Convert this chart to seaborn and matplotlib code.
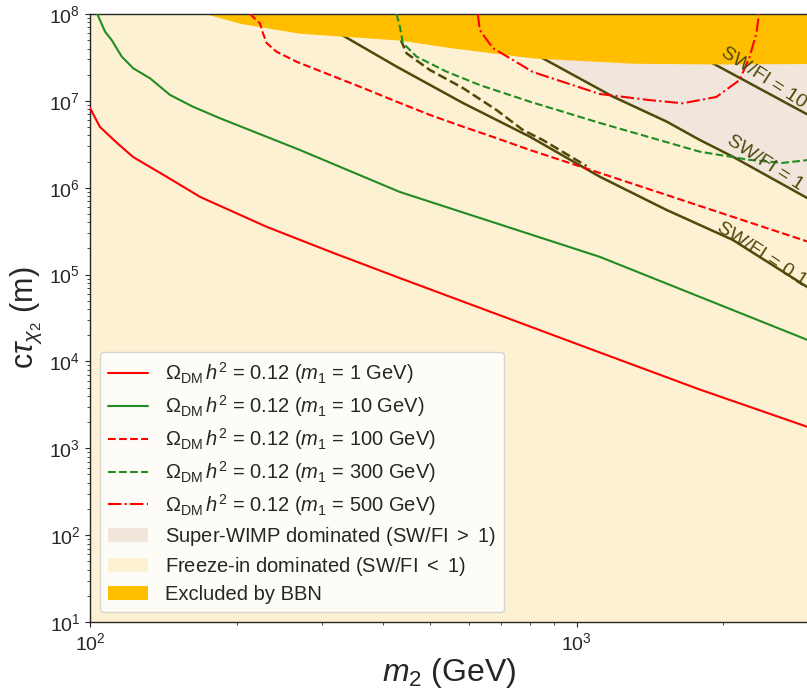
import numpy as np
import matplotlib
matplotlib.use('Agg')
import matplotlib.pyplot as plt
import seaborn as sns

# curves (m2 in GeV, c*tau in m)
m_red1 = [100, 104.8, 113.6, 122.6, 143.9, 168.4, 230.8, 315.8, 432, 700, 1078, 1789, 3000]
ct_red1 = [8.28e6, 5.01e6, 3.28e6, 2.26e6, 1.33e6, 7.83e5, 3.54e5, 1.78e5, 9.16e4, 3.35e4, 1.36e4, 4.75e3, 1.74e3]

m_grn10 = [103.5, 107.4, 110.8, 116.2, 122.7, 132.8, 146.0, 162.7, 184.9, 269.9, 432.6, 1115, 3000]
ct_grn10 = [1.0e8, 6.25e7, 5.01e7, 3.23e7, 2.37e7, 1.82e7, 1.17e7, 8.57e6, 6.31e6, 2.72e6, 8.95e5, 1.60e5, 1.74e4]

m_red100 = [213.1, 223.4, 226.6, 230.6, 241.7, 265.7, 311.0, 363.6, 426.4, 499.1, 583.4, 684.2, 800.9, 1115, 1789, 3000]
ct_red100 = [1.0e8, 7.82e7, 6.04e7, 4.63e7, 3.68e7, 2.82e7, 1.99e7, 1.41e7, 9.79e6, 6.89e6, 5.05e6, 3.72e6, 2.72e6, 1.48e6, 6.17e5, 2.37e5]

m_grn300 = [426.4, 433.1, 439.3, 468.7, 540.0, 632.1, 800.9, 1115, 1789, 2266, 2649, 3000]
ct_grn300 = [1.0e8, 7.14e7, 4.63e7, 3.23e7, 2.17e7, 1.52e7, 9.79e6, 5.57e6, 2.60e6, 2.09e6, 1.93e6, 2.09e6]

m_red500 = [626.1, 632.1, 672.1, 739.0, 812.3, 1115, 1412, 1651, 1936, 2161, 2266, 2339, 2368]
ct_red500 = [1.0e8, 6.55e7, 4.06e7, 2.96e7, 2.15e7, 1.20e7, 1.02e7, 9.38e6, 1.11e7, 1.74e7, 3.23e7, 6.0e7, 1.0e8]

# unlabeled dark dashed curve
m_dk = [425, 429, 447, 499, 583, 684, 775, 851, 1047]
ct_dk = [1.0e8, 6.04e7, 3.53e7, 2.27e7, 1.41e7, 7.85e6, 4.62e6, 3.55e6, 1.78e6]

# SW/FI contours
m_sw01 = [277, 333.9, 426.4, 583.4, 800.9, 1115, 1528, 2091, 3000]
ct_sw01 = [1.0e8, 5.48e7, 2.48e7, 9.46e6, 3.87e6, 1.34e6, 5.56e5, 2.51e5, 6.98e4]
m_sw1 = [574, 839.5, 1186, 1530, 1789, 2091, 3000]
ct_sw1 = [1.0e8, 3.23e7, 1.12e7, 5.77e6, 3.55e6, 2.28e6, 7.41e5]
m_sw10 = [1230, 1902, 3000]
ct_sw10 = [1.0e8, 2.71e7, 6.82e6]

# BBN excluded region lower edge
m_bbn = [100, 173.6, 203.2, 269.9, 433.1, 556.6, 812.3, 1303, 1936, 3000]
ct_bbn = [1.0e8, 1.0e8, 7.82e7, 6.0e7, 5.01e7, 4.06e7, 3.12e7, 2.71e7, 2.66e7, 2.69e7]

xlim = [100, 3000]
ylim = [1e1, 1e8]

sns.set_style('ticks')
plt.rcParams['font.family'] = ['Liberation Sans', 'DejaVu Sans']
plt.rcParams['mathtext.fontset'] = 'custom'
plt.rcParams['mathtext.rm'] = 'Liberation Sans'
plt.rcParams['mathtext.it'] = 'Liberation Sans:italic'
plt.rcParams['mathtext.bf'] = 'Liberation Sans:bold'

fig = plt.figure(figsize=(8.07, 6.93), dpi=100)
ax = fig.add_axes([90/807, 71/693, 719/807, 608/693])

fi_col = '#fdf1d3'
sw_col = '#f0e6dc'
bbn_col = '#ffbf00'
olive = '#4f4a0c'

h_fi = ax.fill_between(xlim, ylim[0], ylim[1], color=fi_col, lw=0, zorder=0,
                       label=r'Freeze-in dominated (SW/FI $<$ 1)')
h_sw = ax.fill_between(m_sw1, ct_sw1, ylim[1], color=sw_col, lw=0, zorder=0.5,
                       label=r'Super-WIMP dominated (SW/FI $>$ 1)')

for mm, cc in [(m_sw01, ct_sw01), (m_sw1, ct_sw1), (m_sw10, ct_sw10)]:
    ax.plot(mm, cc, color=olive, lw=1.8, zorder=1)
ax.plot(m_dk, ct_dk, color=olive, lw=1.8, ls='--', zorder=1)

h_bbn = ax.fill_between(m_bbn, ct_bbn, ylim[1], color=bbn_col, lw=0, zorder=2,
                        label='Excluded by BBN')

lab = r'$\Omega_{\rm DM}\,h^2$ = 0.12 ($m_1$ = %s GeV)'
sns.lineplot(x=m_red1, y=ct_red1, sort=False, estimator=None, color='red', lw=1.5, ax=ax, zorder=3)
sns.lineplot(x=m_grn10, y=ct_grn10, sort=False, estimator=None, color='forestgreen', lw=1.5, ax=ax, zorder=3)
sns.lineplot(x=m_red100, y=ct_red100, sort=False, estimator=None, color='red', lw=1.5, ls='--', ax=ax, zorder=3)
sns.lineplot(x=m_grn300, y=ct_grn300, sort=False, estimator=None, color='forestgreen', lw=1.5, ls='--', ax=ax, zorder=3)
sns.lineplot(x=m_red500, y=ct_red500, sort=False, estimator=None, color='red', lw=1.5, ls='-.', ax=ax, zorder=3)
lines = ax.get_lines()[-5:]
for ln, m1 in zip(lines, ['1', '10', '100', '300', '500']):
    ln.set_label(lab % m1)

ax.set_xscale('log')
ax.set_yscale('log')
ax.set_xlim(xlim)
ax.set_ylim(ylim)

ax.text(1966, 3.37e7, 'SW/FI = 10', color=olive, fontsize=14, rotation=-33,
        rotation_mode='anchor', ha='left', va='baseline', zorder=4)
ax.text(2023, 3.25e6, 'SW/FI = 1', color=olive, fontsize=14, rotation=-33,
        rotation_mode='anchor', ha='left', va='baseline', zorder=4)
ax.text(1936, 3.27e5, 'SW/FI = 0.1', color=olive, fontsize=14, rotation=-33,
        rotation_mode='anchor', ha='left', va='baseline', zorder=4)

ax.set_xlabel(r'$m_2$ (GeV)', fontsize=23, labelpad=2)
ax.set_ylabel(r'c$\tau_{\chi_2}$ (m)', fontsize=22)
ax.tick_params(labelsize=14)
for s in ax.spines.values():
    s.set_linewidth(1.0)

handles = lines + [h_sw, h_fi, h_bbn]
leg = ax.legend(handles=handles, loc='lower left', fontsize=14.5, labelspacing=0.35)
leg.set_zorder(5)

fig.savefig('out.png', dpi=100)
